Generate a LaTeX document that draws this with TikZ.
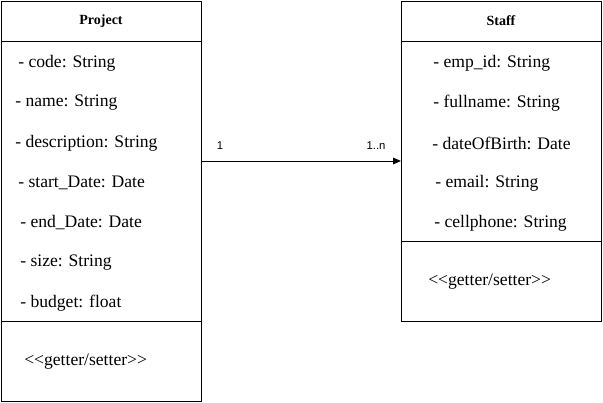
\documentclass[tikz,border=0pt]{standalone}
\usepackage{fontspec}
\setmainfont{Liberation Serif}
\newfontfamily\labelfont{Liberation Sans}
\usetikzlibrary{arrows.meta}
\begin{document}
\begin{tikzpicture}[x=0.75pt,y=-0.75pt,
  classbox/.style={draw,line width=0.75pt,inner sep=0pt},
  sepline/.style={line width=0.75pt},
  attr/.style={anchor=west,inner sep=0pt,font=\fontsize{13.2}{15}\selectfont},
  head/.style={inner sep=0pt,font=\fontsize{10.5}{12}\selectfont\bfseries},
  mult/.style={inner sep=0pt,font=\labelfont\fontsize{8.5}{10}\selectfont},
  assoc/.style={line width=0.75pt,-{Triangle[length=6pt,width=5pt]}}]
\useasboundingbox (0,0) rectangle (603,403);
% boxes
\node[classbox,minimum width=200*0.75pt,minimum height=399.5*0.75pt] (project) at (101.5,201.25) {};
\node[classbox,minimum width=199.5*0.75pt,minimum height=319.5*0.75pt] (staff) at (501.25,161.25) {};
\draw[sepline] (project.west |- 0,41.5) -- (project.east |- 0,41.5);
\draw[sepline] (project.west |- 0,321) -- (project.east |- 0,321);
\draw[sepline] (staff.west |- 0,41.5) -- (staff.east |- 0,41.5);
\draw[sepline] (staff.west |- 0,241) -- (staff.east |- 0,241);
% headers
\node[head] (ptitle) at (101,21) {Project};
\node[head] (stitle) at (501,21) {Staff};
% project attributes
\node[attr] (p1) at (18,63) {- code: String};
\node[attr] (p2) at (15,103) {- name: String};
\node[attr] (p3) at (15,143) {- description: String};
\node[attr] (p4) at (18,183) {- start\_Date: Date};
\node[attr] (p5) at (20,223) {- end\_Date: Date};
\node[attr] (p6) at (20,263) {- size: String};
\node[attr] (p7) at (20,303) {- budget: float};
\node[attr] (pm) at (24,362) {{<}{<}getter/setter{>}{>}};
% staff attributes
\node[attr] (s1) at (433,63) {- emp\_id: String};
\node[attr] (s2) at (433,103) {- fullname: String};
\node[attr] (s3) at (432,143) {- dateOfBirth: Date};
\node[attr] (s4) at (435,183) {- email: String};
\node[attr] (s5) at (434,223) {- cellphone: String};
\node[attr] (sm) at (428,282) {{<}{<}getter/setter{>}{>}};
% association
\coordinate (a1) at (project.east |- 0,161);
\coordinate (a2) at (staff.west |- 0,161);
\draw[assoc] (a1) -- (a2);
\node[mult] (m1) at (220,146) {1};
\node[mult] (m2) at (376,146) {1..n};
\end{tikzpicture}
\end{document}
